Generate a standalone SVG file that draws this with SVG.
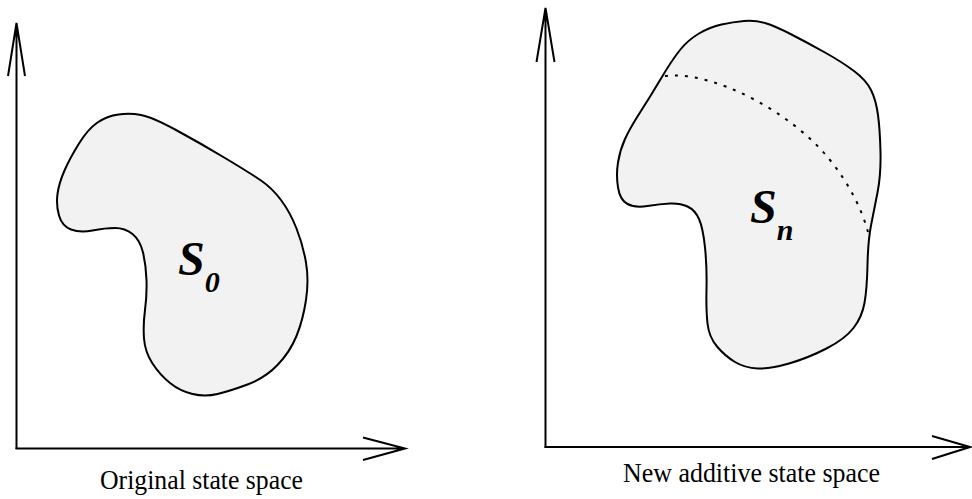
<svg xmlns="http://www.w3.org/2000/svg" width="972" height="499" viewBox="0 0 972 499">
<style>
.ax{fill:none;stroke:#000;stroke-width:2;stroke-linecap:butt;stroke-linejoin:miter}
.blob{fill:#f2f2f2;stroke:#000;stroke-width:2;stroke-linejoin:round}
.dot{fill:none;stroke:#000;stroke-width:2;stroke-dasharray:3 7}
.lbl{font-family:"Liberation Serif","Times New Roman",serif;font-size:28px;fill:#000}
.sym{font-family:"Liberation Serif","Times New Roman",serif;font-size:48px;font-weight:bold;font-style:italic;fill:#000}
.sub{font-size:30px}
</style>
<rect width="972" height="499" fill="#fff"/>
<g id="connectors">
  <g id="left-axes">
    <path class="ax" d="M16.5,449 L16.5,23 M8,76 L16.5,23 L25,76"/>
    <path class="ax" d="M15.5,448.5 L405,448.5 M363,437.5 L405,448.5 L363,460"/>
  </g>
  <g id="right-axes">
    <path class="ax" d="M545.5,448 L545.5,8 M536.5,62 L545.5,8 L554.5,62"/>
    <path class="ax" d="M544.5,447 L970,447 M932,436 L970,447 L932,459"/>
  </g>
</g>
<g id="S0">
  <path class="blob" d="M97.5,122.5 Q107,116 118.5,114.5 Q130,113 141,115 Q152,117 176,130 Q200,143 225,158 Q250,173 261,180.5 Q272,188 281,200 Q290,212 296.5,228.5 Q303,245 306,262.5 Q309,280 306,300 Q303,320 296.5,336 Q290,352 277.5,365 Q265,378 247.5,384.5 Q230,391 217.5,394 Q205,397 192.5,394 Q180,391 170,383 Q160,375 152.5,363.5 Q145,352 144,338.5 Q143,325 145,310 Q147,295 146.5,280 Q146,265 143,252.5 Q140,240 132.5,234 Q125,228 115,228 Q105,228 92.5,230.5 Q80,233 71,229.5 Q62,226 59,215.5 Q56,205 57.5,194 Q59,183 64.5,170.5 Q70,158 79,143.5 Q88,129 97.5,122.5 Z"/>
  <text class="sym" x="178" y="275">S<tspan class="sub" dy="17">0</tspan></text>
</g>
<g id="Sn">
  <path class="blob" d="M721.5,24.5 Q733,22 744,21 Q755,20 765,23 Q775,26 791.5,34.5 Q808,43 825,52.5 Q842,62 854,71 Q866,80 871,90 Q876,100 878,115 Q880,130 880.5,152.5 Q881,175 877.5,192.5 Q874,210 871,225.5 Q868,241 867.5,265 Q867,289 864.5,303 Q862,317 853.5,328 Q845,339 826.5,348.5 Q808,358 789,363.5 Q770,369 757.5,368.5 Q745,368 735,362 Q725,356 717,346.5 Q709,337 707.5,323.5 Q706,310 706.5,288.5 Q707,267 705,247.5 Q703,228 699,219 Q695,210 687.5,206.5 Q680,203 670,203.5 Q660,204 647.5,206 Q635,208 627.5,204 Q620,200 618,187.5 Q616,175 618,162.5 Q620,150 625,139 Q630,128 640,112.5 Q650,97 661,78.5 Q672,60 680,50 Q688,40 699,33.5 Q710,27 721.5,24.5 Z"/>
  <path class="dot" d="M665,76 C710,70 790,110 830,160 C850,185 862,210 868,232"/>
  <text class="sym" x="750" y="223">S<tspan class="sub" dy="17">n</tspan></text>
</g>
<g id="label-left"><text class="lbl" x="100" y="489" textLength="203" lengthAdjust="spacingAndGlyphs">Original state space</text></g>
<g id="label-right"><text class="lbl" x="623" y="482" textLength="257" lengthAdjust="spacingAndGlyphs">New additive state space</text></g>
</svg>
